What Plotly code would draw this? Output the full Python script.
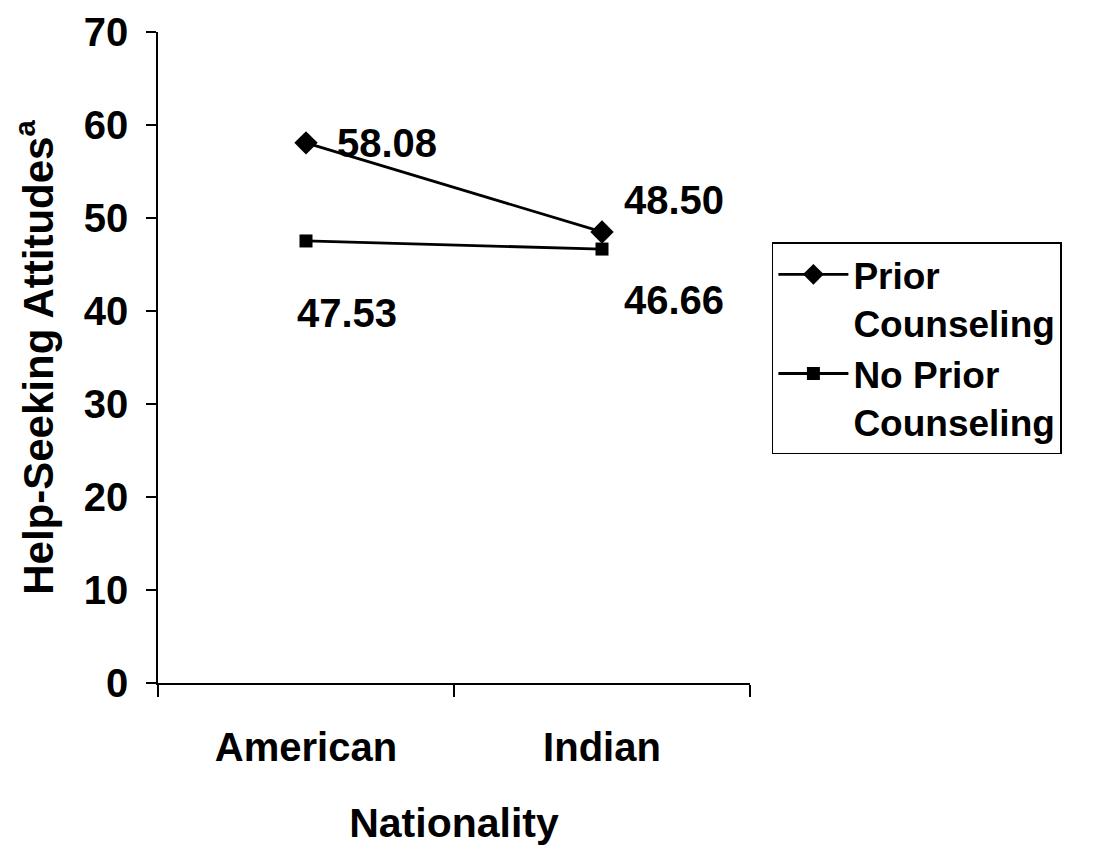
import plotly.graph_objects as go

categories = ["American", "Indian"]
prior = [58.08, 48.50]
no_prior = [47.53, 46.66]
series_names = ["Prior<br>Counseling", "No Prior<br>Counseling"]
y_ticks = [0, 10, 20, 30, 40, 50, 60, 70]

FONT = "Liberation Sans, Arial, sans-serif"

fig = go.Figure()
fig.add_trace(go.Scatter(
    x=categories, y=prior, name=f"<b>{series_names[0]}</b>", mode="lines+markers",
    line=dict(color="black", width=2.8),
    marker=dict(symbol="diamond", size=18, color="black"),
))
fig.add_trace(go.Scatter(
    x=categories, y=no_prior, name=f"<b>{series_names[1]}</b>", mode="lines+markers",
    line=dict(color="black", width=2.8),
    marker=dict(symbol="square", size=13, color="black"),
))

label_font = dict(family=FONT, size=40, color="black")
# data labels: (x, y, xshift, yshift)
label_specs = [
    (categories[0], prior[0], 29, 0),
    (categories[1], prior[1], 20, 32),
    (categories[0], no_prior[0], -11, -72),
    (categories[1], no_prior[1], 20, -51),
]
for x, y, dx, dy in label_specs:
    fig.add_annotation(x=x, y=y, text=f"<b>{y:.2f}</b>", showarrow=False,
                       xanchor="left", yanchor="middle", xshift=dx, yshift=dy,
                       font=label_font)

fig.update_layout(
    width=1078, height=838,
    margin=dict(l=150, r=336, t=24, b=163, autoexpand=False),
    paper_bgcolor="white", plot_bgcolor="white",
    font=dict(family=FONT, size=40, color="black"),
    showlegend=True,
    legend=dict(
        x=1.037, xanchor="left", y=0.677, yanchor="top",
        bordercolor="black", borderwidth=1.5, bgcolor="white",
        font=dict(family=FONT, size=37, color="black"),
        tracegroupgap=4, itemwidth=70, valign="top",
    ),
    xaxis=dict(
        type="category", range=[-0.5, 1.5],
        tickvals=categories, ticktext=[f"<b>{c}</b>" for c in categories],
        showline=True, linecolor="black", linewidth=1.5,
        ticks="outside", tickson="boundaries", ticklen=12, tickcolor="black", tickwidth=1.5,
        ticklabelstandoff=28,
        showgrid=False, zeroline=False,
        tickfont=dict(family=FONT, size=40, color="black"),
        title=dict(text="<b>Nationality</b>", font=dict(family=FONT, size=41, color="black"), standoff=47),
    ),
    yaxis=dict(
        range=[0, 70], tickvals=y_ticks, ticktext=[f"<b>{v}</b>" for v in y_ticks],
        showline=True, linecolor="black", linewidth=1.5,
        ticks="outside", ticklen=10, tickcolor="black", tickwidth=1.5,
        ticklabelstandoff=10,
        showgrid=False, zeroline=False,
        tickfont=dict(family=FONT, size=40, color="black"),
        title=dict(text="<b>Help-Seeking Attitudes<sup>a</sup></b>", font=dict(family=FONT, size=42, color="black"), standoff=20),
    ),
)

fig.write_html("out.html")
